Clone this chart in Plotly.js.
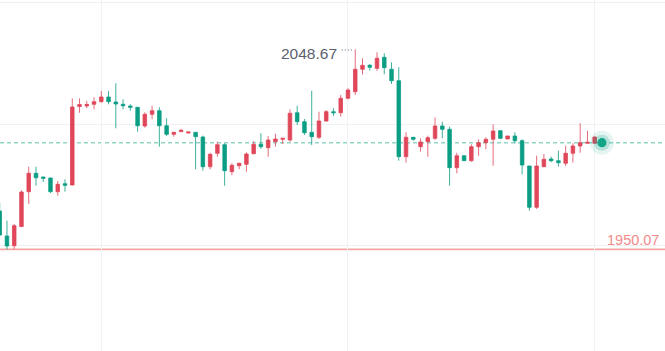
<!DOCTYPE html>
<html>
<head>
<meta charset="utf-8">
<script src="https://cdn.plot.ly/plotly-3.0.1.min.js"></script>
<style>
html,body{margin:0;padding:0;background:#fff;}
#chart{width:665px;height:351px;}
</style>
</head>
<body>
<div id="chart"></div>
<script>
// Candle index (time slots)
const idx = [];
for (let i = 0; i < 84; i++) idx.push(i);

const open = [
 1968.95,1956.63,1951.84,1961.31,1978.47,1987.54,1985.71,1985.22,1978.47,1982.41,
 1981.77,2020.47,2020.72,2021.55,2022.84,2025.15,2022.69,2021.55,2020.72,2020.08,
 2010.86,2016.63,2018.40,2011.00,2006.77,2008.05,2007.41,2007.75,2005.43,1990.79,
 1997.40,2001.64,1988.33,1991.29,1991.98,1997.20,2001.83,2000.16,2003.12,2004.30,
 2003.95,2017.41,2012.98,2007.75,2005.29,2013.32,2017.91,2017.41,2024.51,2027.77,
 2038.81,2040.78,2039.30,2044.73,2038.81,2033.19,1995.72,2005.29,2000.65,2003.12,
 2004.79,2010.86,2009.23,1990.30,1996.21,1993.75,2000.65,2002.62,2004.30,2008.54,
 2004.45,2005.93,2003.61,1991.14,1970.78,1990.79,1994.59,1993.75,1992.47,1997.40,
 2001.00,2002.33,2002.33,2004.60
];
const high = [
 1972.90,1964.17,1962.54,1979.06,1990.79,1990.79,1985.80,1985.37,1983.74,1984.58,
 2024.51,2024.51,2023.18,2025.01,2028.11,2028.11,2031.91,2024.02,2021.55,2020.22,
 2017.61,2020.86,2020.08,2014.65,2007.80,2009.38,2007.95,2007.90,2006.08,1997.69,
 2003.12,2002.33,1992.47,1992.76,1997.89,2003.46,2007.26,2005.93,2007.06,2004.85,
 2019.09,2020.86,2014.31,2028.26,2017.91,2018.75,2019.58,2026.14,2029.44,2048.67,
 2044.23,2041.42,2047.19,2046.70,2042.26,2039.80,2007.75,2005.35,2004.79,2006.08,
 2015.14,2012.98,2010.51,1997.69,1996.30,2001.83,2004.30,2005.29,2011.69,2008.60,
 2006.00,2007.75,2004.30,1991.20,1996.21,1997.05,1995.72,1998.68,2001.14,2002.33,
 2012.19,2008.54,2005.68,2004.90
];
const low = [
 1956.80,1950.07,1950.22,1961.00,1972.40,1981.43,1983.25,1977.83,1976.49,1978.47,
 1981.60,2017.41,2019.73,2019.09,2022.34,2021.55,2009.72,2019.09,2018.40,2008.05,
 2010.02,2014.16,2000.65,2005.93,2005.58,2008.00,2007.16,1989.51,1988.82,1989.51,
 1995.72,1981.43,1986.70,1989.51,1988.33,1996.90,1999.52,1995.72,2000.65,2001.98,
 2003.12,2011.35,2006.42,2001.49,2004.45,2012.98,2015.79,2015.44,2024.02,2026.14,
 2036.25,2038.12,2038.12,2036.35,2031.56,1993.75,1992.76,2003.61,1998.19,1995.72,
 2003.95,2004.79,1981.43,1987.54,1993.60,1993.26,1996.21,1999.37,1991.29,2004.30,
 2004.40,2002.33,1987.05,1969.10,1969.94,1990.60,1992.96,1990.79,1991.14,1992.76,
 1997.69,2002.20,2002.22,2002.30
];
const close = [
 1957.12,1951.70,1961.70,1978.32,1987.54,1985.37,1985.07,1978.47,1982.11,1981.62,
 2020.22,2021.46,2021.46,2022.84,2025.15,2022.84,2021.70,2020.86,2020.08,2011.00,
 2016.63,2018.40,2011.00,2006.77,2007.75,2008.74,2007.90,2005.58,1990.79,1996.90,
 2001.64,1988.82,1991.48,1992.47,1997.05,2001.83,2000.65,2003.95,2004.45,2004.79,
 2017.12,2012.98,2007.55,2005.58,2013.32,2017.91,2017.41,2024.51,2028.61,2038.81,
 2040.78,2039.80,2044.23,2039.60,2033.19,1995.72,2005.29,2004.30,2002.97,2005.09,
 2010.86,2009.23,1990.30,1996.21,1993.75,2000.65,2002.62,2004.30,2008.39,2004.79,
 2005.93,2003.61,1991.63,1970.78,1991.14,1994.44,1993.75,1992.76,1997.40,2001.00,
 2002.62,2002.82,2005.43,2002.60
];

const lowMark = 1950.07;
const gridPrices = [1951.7, 2011.6, 2071.5];
const gridSlots = [14, 48, 82];

const RED = '#e0475a';
const GREEN = '#0b9e84';

const last = idx.length - 1;
const lastClose = close[last];
let hiIdx = 0;
for (let i = 1; i < high.length; i++) if (high[i] > high[hiIdx]) hiIdx = i;
const hiVal = high[hiIdx];

const traces = [
  {
    type: 'candlestick',
    x: idx, open: open, high: high, low: low, close: close,
    increasing: {line: {color: 'rgba(224,71,90,0.8)', width: 1}, fillcolor: RED},
    decreasing: {line: {color: 'rgba(11,158,132,0.8)', width: 1}, fillcolor: GREEN},
    whiskerwidth: 0,
    hoverinfo: 'skip',
    showlegend: false
  },
  {type: 'scatter', mode: 'markers', x: [idx[last]], y: [lastClose],
   marker: {size: 24, color: 'rgba(11,158,132,0.10)'}, hoverinfo: 'skip', showlegend: false},
  {type: 'scatter', mode: 'markers', x: [idx[last]], y: [lastClose],
   marker: {size: 16, color: 'rgba(11,158,132,0.22)'}, hoverinfo: 'skip', showlegend: false},
  {type: 'scatter', mode: 'markers', x: [idx[last]], y: [lastClose],
   marker: {size: 9, color: '#13a386'}, hoverinfo: 'skip', showlegend: false}
];

const layout = {
  width: 665, height: 351,
  margin: {l: 0, r: 0, t: 0, b: 0},
  paper_bgcolor: '#ffffff', plot_bgcolor: '#ffffff',
  showlegend: false,
  xaxis: {
    range: [0.04, 91.69], rangeslider: {visible: false},
    showticklabels: false, zeroline: false, showline: false,
    tickmode: 'array', tickvals: gridSlots, ticks: '',
    showgrid: true, gridcolor: '#f1f2f4', gridwidth: 1, fixedrange: true
  },
  yaxis: {
    range: [1899.93, 2072.975],
    showticklabels: false, zeroline: false, showline: false,
    tickmode: 'array', tickvals: gridPrices, ticks: '',
    showgrid: true, gridcolor: '#eff0f3', gridwidth: 1, fixedrange: true
  },
  shapes: [
    {type: 'line', xref: 'paper', x0: 0, x1: 1, yref: 'y', y0: lowMark, y1: lowMark,
     line: {color: '#f5a3a3', width: 1.8}, layer: 'below'},
    {type: 'line', xref: 'paper', x0: 0, x1: 1, yref: 'y', y0: lastClose, y1: lastClose,
     line: {color: '#93d6c7', width: 1.3, dash: '4px,3px'}, layer: 'below'},
    {type: 'line', xref: 'x', x0: hiIdx - 1.85, x1: hiIdx - 0.45, yref: 'y', y0: hiVal - 0.35, y1: hiVal - 0.35,
     line: {color: '#5d6273', width: 1.2, dash: '1px,2px'}}
  ],
  annotations: [
    {xref: 'x', yref: 'y', x: hiIdx - 2.3, y: hiVal, xanchor: 'right', yanchor: 'middle',
     yshift: -4.5, showarrow: false, text: hiVal.toFixed(2),
     font: {family: 'Liberation Sans, Arial, sans-serif', size: 15.5, color: '#5b6071'}},
    {xref: 'paper', yref: 'y', x: 1, y: lowMark, xanchor: 'right', yanchor: 'middle',
     xshift: -4, yshift: 9, showarrow: false, text: lowMark.toFixed(2),
     font: {family: 'Liberation Sans, Arial, sans-serif', size: 14.5, color: '#f28a8a'}}
  ]
};

Plotly.newPlot('chart', traces, layout, {staticPlot: true, displayModeBar: false});
</script>
</body>
</html>
